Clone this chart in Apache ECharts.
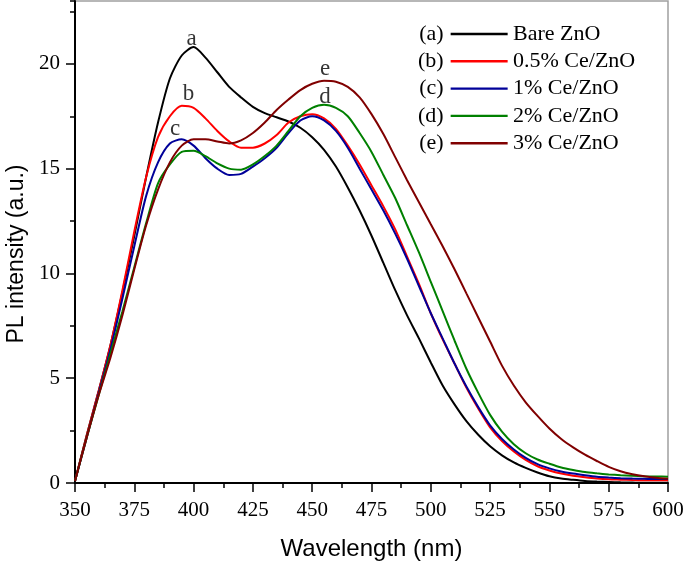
<!DOCTYPE html>
<html>
<head>
<meta charset="utf-8">
<script src="https://cdn.jsdelivr.net/npm/echarts@6/dist/echarts.min.js"></script>
<style>html,body{margin:0;padding:0;background:#fff}#c{width:685px;height:561px}</style>
</head>
<body>
<div id="c"></div>
<script>
const wavelengths = [350,355,360,365,370,375,380,385,390,395,400,405,410,415,420,425,430,435,440,445,450,455,460,465,470,475,480,485,490,495,500,505,510,515,520,525,530,535,540,545,550,555,560,565,570,575,580,585,590,595,600];
const bareZnO   = [0.1,2.3,4.4,6.6,9.1,11.8,14.6,17.2,19.3,20.4,20.8,20.3,19.6,18.9,18.4,17.95,17.65,17.45,17.25,16.95,16.5,15.9,15.1,14.1,13.0,11.8,10.5,9.2,8.0,6.9,5.75,4.65,3.75,2.95,2.3,1.75,1.32,0.98,0.72,0.5,0.32,0.21,0.15,0.1,0.07,0.05,0.03,0.02,0.01,0.01,0.01];
const ce05 = [0.1,2.3,4.4,6.6,9.2,12.0,14.6,16.5,17.5,18.0,17.9,17.4,16.8,16.3,16.0,16.0,16.2,16.6,17.2,17.5,17.6,17.4,16.9,16.1,15.2,14.2,13.2,12.1,10.8,9.5,8.1,6.85,5.7,4.55,3.55,2.65,2.0,1.5,1.1,0.8,0.6,0.45,0.35,0.28,0.22,0.18,0.16,0.14,0.13,0.13,0.13];
const ce1  = [0.1,2.2,4.3,6.4,8.8,11.3,13.7,15.3,16.2,16.4,16.1,15.5,15.0,14.7,14.75,15.1,15.5,16.0,16.7,17.3,17.5,17.3,16.8,16.0,15.0,14.0,13.0,11.9,10.7,9.4,8.1,6.9,5.7,4.6,3.62,2.75,2.1,1.6,1.2,0.9,0.7,0.55,0.45,0.37,0.3,0.26,0.23,0.21,0.2,0.19,0.19];
const ce2  = [0.1,2.2,4.2,6.2,8.2,10.3,12.4,14.3,15.2,15.8,15.85,15.6,15.25,15.0,14.95,15.2,15.6,16.1,16.8,17.5,17.9,18.05,17.9,17.5,16.7,15.8,14.7,13.6,12.3,11.0,9.6,8.2,6.8,5.45,4.3,3.25,2.45,1.85,1.42,1.12,0.92,0.74,0.62,0.52,0.46,0.41,0.37,0.34,0.32,0.31,0.3];
const ce3  = [0.1,2.2,4.2,6.0,8.0,10.2,12.3,14.0,15.3,16.1,16.4,16.4,16.3,16.2,16.35,16.7,17.2,17.8,18.3,18.75,19.05,19.2,19.15,18.9,18.4,17.6,16.65,15.55,14.45,13.4,12.35,11.3,10.2,9.05,7.9,6.75,5.6,4.65,3.85,3.2,2.6,2.1,1.7,1.35,1.05,0.77,0.56,0.42,0.32,0.25,0.2];

const seriesNames = ['Bare ZnO','0.5% Ce/ZnO','1% Ce/ZnO','2% Ce/ZnO','3% Ce/ZnO'];
const seriesTags = ['(a)','(b)','(c)','(d)','(e)'];
const seriesColors = ['#000000','#ff0000','#000099','#008000','#800000'];
const seriesValues = [bareZnO, ce05, ce1, ce2, ce3];

const curveLetters = ['a','b','c','d','e'];
const letterX = [399.2, 397.8, 392.2, 455.4, 455.4];
const letterY = [21.2, 18.55, 16.9, 18.4, 19.75];

const serif = 'Liberation Serif';
const sans = 'Liberation Sans';

const lineSeries = seriesNames.map((n,i)=>({
  name: n,
  type: 'line',
  data: wavelengths.map((w,k)=>[w, seriesValues[i][k]]),
  symbol: 'none',
  smooth: 0.25,
  lineStyle: {color: seriesColors[i], width: 2},
  itemStyle: {color: seriesColors[i]},
  z: 5
}));

const labelSeries = {
  name: 'letters',
  type: 'scatter',
  symbolSize: 0,
  data: curveLetters.map((c,i)=>[letterX[i], letterY[i], c]),
  label: {show: true, position: 'inside', formatter: p => p.value[2], color: '#000', fontFamily: serif, fontSize: 23},
  z: 10,
  silent: true
};

const lineIcon = 'path://M0,0L57,0L57,2.4L0,2.4Z';

const chart = echarts.init(document.getElementById('c'), null, {renderer: 'canvas'});
chart.setOption({
  animation: false,
  backgroundColor: '#fff',
  grid: {left: 75, right: 17, top: 1, bottom: 78, containLabel: false, outerBoundsMode: 'none',
         show: true, borderColor: '#a0a0a0', borderWidth: 1.5, backgroundColor: 'transparent'},
  legend: [
    {
      data: seriesNames, orient: 'vertical', left: 418, top: 23, align: 'right', padding: 0,
      icon: lineIcon,
      itemWidth: 57, itemHeight: 2.4, itemGap: 5.3,
      formatter: n => seriesTags[seriesNames.indexOf(n)],
      textStyle: {fontFamily: serif, fontSize: 22, color: '#000', padding: [0,2,0,0], lineHeight: 22},
      selectedMode: false
    },
    {
      data: seriesNames, orient: 'vertical', left: 508, top: 23, padding: 0,
      icon: 'rect',
      itemWidth: 0, itemHeight: 2, itemGap: 5.3,
      itemStyle: {opacity: 0},
      textStyle: {fontFamily: serif, fontSize: 22, color: '#000', lineHeight: 22},
      selectedMode: false
    }
  ],
  xAxis: {
    type: 'value', min: 350, max: 600, interval: 25,
    name: 'Wavelength (nm)', nameLocation: 'middle', nameGap: 54,
    nameTextStyle: {fontFamily: sans, fontSize: 24, color: '#000'},
    axisLine: {show: true, onZero: false, lineStyle: {color: '#000', width: 2}},
    axisTick: {show: true, inside: false, length: 9, lineStyle: {color: '#000', width: 1.5}},
    minorTick: {show: true, splitNumber: 2, length: 5, lineStyle: {color: '#000', width: 1.5}},
    axisLabel: {fontFamily: serif, fontSize: 21, color: '#000', margin: 17},
    splitLine: {show: false}
  },
  yAxis: [
    {
      type: 'value', min: 0, max: 23, interval: 5,
      name: 'PL intensity (a.u.)', nameLocation: 'middle', nameGap: 45, nameRotate: 90,
      nameTextStyle: {fontFamily: sans, fontSize: 23, color: '#000', padding: [0, 24, 0, 0]},
      axisLine: {show: true, onZero: false, lineStyle: {color: '#000', width: 2}},
      axisTick: {show: true, inside: false, length: 9, lineStyle: {color: '#000', width: 1.5}},
      axisLabel: {fontFamily: serif, fontSize: 21, color: '#000', margin: 15, showMaxLabel: false},
      splitLine: {show: false}
    },
    {
      type: 'value', min: 0, max: 23, interval: 2.5, position: 'left',
      axisLine: {show: false},
      axisTick: {show: true, inside: false, length: 5, lineStyle: {color: '#000', width: 1.5}},
      axisLabel: {show: false},
      splitLine: {show: false}
    }
  ],
  series: [...lineSeries, labelSeries]
});
</script>
</body>
</html>
